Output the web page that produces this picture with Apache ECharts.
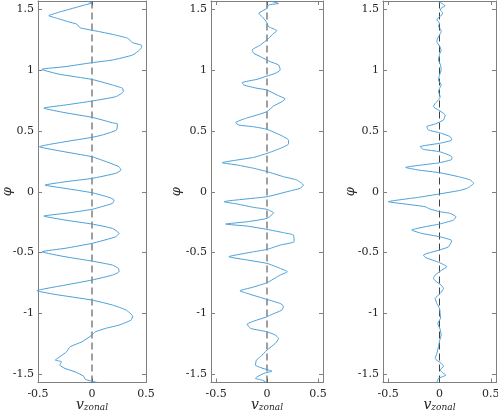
<!DOCTYPE html>
<html>
<head>
<meta charset="utf-8">
<script src="https://cdn.jsdelivr.net/npm/echarts@6/dist/echarts.min.js"></script>
<style>
  html, body { margin: 0; padding: 0; background: #fff; }
  #chart { width: 498px; height: 415px; }
</style>
</head>
<body>
<div id="chart"></div>
<script>
// tick labels shared by the three panels
const phiTicks = [-1.5, -1, -0.5, 0, 0.5, 1, 1.5]
const vTicks = [-0.5, 0, 0.5]

// panel 1 (top to bottom)
const phi1 = [1.570, 1.555, 1.540, 1.52, 1.50, 1.48, 1.45, 1.43, 1.40, 1.38, 1.35, 1.32, 1.29, 1.264, 1.227, 1.208, 1.19, 1.167, 1.126, 1.085, 1.063, 1.03, 1.008, 0.969, 0.925, 0.879, 0.852, 0.824, 0.783, 0.747, 0.714, 0.689, 0.651, 0.613, 0.568, 0.558, 0.508, 0.467, 0.448, 0.412, 0.371, 0.338, 0.288, 0.239, 0.206, 0.179, 0.152, 0.110, 0.082, 0.055, 0.028, -0.008, -0.046, -0.068, -0.095, -0.115, -0.145, -0.178, -0.200, -0.233, -0.266, -0.302, -0.343, -0.371, -0.425, -0.466, -0.494, -0.535, -0.571, -0.604, -0.631, -0.659, -0.686, -0.727, -0.769, -0.815, -0.845, -0.892, -0.933, -0.974, -1.024, -1.057, -1.098, -1.125, -1.153, -1.18, -1.236, -1.277, -1.318, -1.359, -1.386, -1.40, -1.428, -1.455, -1.483, -1.518, -1.545, -1.570]
const v1 = [-0.05, 0.00, -0.06, -0.14, -0.22, -0.30, -0.40, -0.33, -0.22, -0.14, -0.11, 0.06, 0.22, 0.33, 0.377, 0.456, 0.46, 0.44, 0.377, 0.19, 0.0, -0.25, -0.465, -0.31, 0.0, 0.19, 0.283, 0.29, 0.22, 0.0, -0.25, -0.446, -0.25, 0.0, 0.19, 0.236, 0.226, 0.094, 0.0, -0.25, -0.487, -0.31, 0.0, 0.158, 0.25, 0.268, 0.22, 0.0, -0.25, -0.434, -0.25, 0.0, 0.158, 0.205, 0.19, 0.12, 0.0, -0.25, -0.446, -0.25, 0.0, 0.19, 0.25, 0.22, 0.0, -0.25, -0.462, -0.25, 0.0, 0.19, 0.245, 0.25, 0.19, 0.0, -0.25, -0.509, -0.345, 0.0, 0.19, 0.315, 0.377, 0.362, 0.25, 0.126, 0.032, 0.0, -0.094, -0.204, -0.236, -0.298, -0.34, -0.283, -0.298, -0.25, -0.157, -0.078, -0.062, 0.047]

// panel 2
const phi2 = [1.570, 1.551, 1.538, 1.51, 1.469, 1.442, 1.40, 1.36, 1.326, 1.304, 1.263, 1.208, 1.167, 1.14, 1.113, 1.071, 1.044, 1.003, 0.975, 0.953, 0.926, 0.898, 0.879, 0.852, 0.838, 0.797, 0.764, 0.742, 0.706, 0.66, 0.632, 0.604, 0.569, 0.549, 0.535, 0.514, 0.467, 0.426, 0.393, 0.357, 0.316, 0.283, 0.239, 0.22, 0.193, 0.166, 0.124, 0.097, 0.055, 0.028, 0.0, -0.041, -0.082, -0.101, -0.129, -0.145, -0.173, -0.219, -0.247, -0.266, -0.283, -0.31, -0.337, -0.357, -0.411, -0.439, -0.475, -0.494, -0.535, -0.562, -0.59, -0.631, -0.659, -0.686, -0.749, -0.788, -0.815, -0.837, -0.887, -0.92, -0.942, -0.974, -1.016, -1.03, -1.056, -1.09, -1.125, -1.153, -1.18, -1.208, -1.249, -1.304, -1.359, -1.386, -1.428, -1.447, -1.469, -1.477, -1.496, -1.524, -1.537, -1.551, -1.565, -1.570]
const v2 = [0.03, 0.114, 0.016, 0.0, -0.081, -0.049, -0.006, 0.016, 0.097, 0.065, 0.016, -0.065, -0.146, -0.13, -0.065, 0.032, 0.114, 0.13, 0.081, 0.0, -0.097, -0.244, -0.227, -0.097, 0.0, 0.097, 0.179, 0.146, 0.065, 0.0, -0.097, -0.211, -0.309, -0.276, -0.13, 0.0, 0.13, 0.211, 0.211, 0.13, 0.0, -0.13, -0.439, -0.292, -0.13, 0.0, 0.162, 0.292, 0.357, 0.325, 0.195, 0.0, -0.422, -0.292, -0.13, 0.0, 0.065, 0.0, -0.195, -0.406, -0.195, 0.0, 0.162, 0.26, 0.266, 0.13, 0.0, -0.13, -0.374, -0.195, 0.0, 0.13, 0.201, 0.13, 0.0, -0.146, -0.266, -0.195, 0.0, 0.13, 0.162, 0.146, 0.032, 0.0, -0.097, -0.195, -0.162, 0.0, 0.081, 0.114, 0.081, 0.0, -0.065, -0.104, -0.114, -0.065, 0.016, 0.049, -0.032, -0.097, -0.114, -0.049, -0.016, -0.04]

// panel 3
const phi3 = [1.570, 1.553, 1.53, 1.515, 1.497, 1.475, 1.456, 1.435, 1.414, 1.39, 1.36, 1.34, 1.318, 1.29, 1.26, 1.236, 1.20, 1.167, 1.13, 1.085, 1.045, 1.003, 0.96, 0.92, 0.879, 0.85, 0.824, 0.783, 0.755, 0.728, 0.70, 0.673, 0.632, 0.591, 0.558, 0.536, 0.508, 0.486, 0.454, 0.426, 0.399, 0.371, 0.349, 0.33, 0.288, 0.267, 0.239, 0.20, 0.179, 0.157, 0.124, 0.097, 0.069, 0.028, 0.009, -0.018, -0.046, -0.082, -0.101, -0.123, -0.14, -0.164, -0.178, -0.206, -0.233, -0.266, -0.288, -0.315, -0.343, -0.37, -0.403, -0.453, -0.48, -0.521, -0.54, -0.584, -0.617, -0.645, -0.686, -0.714, -0.733, -0.769, -0.796, -0.837, -0.878, -0.92, -0.96, -1.002, -1.04, -1.084, -1.13, -1.18, -1.23, -1.276, -1.331, -1.373, -1.413, -1.436, -1.468, -1.49, -1.51, -1.537, -1.570]
const v3 = [-0.026, 0.02, 0.055, 0.02, 0.007, 0.03, 0.023, -0.01, -0.026, 0.0, -0.01, 0.01, 0.016, 0.0, -0.02, -0.026, 0.0, 0.016, 0.0, -0.01, 0.01, 0.016, 0.0, -0.01, 0.016, 0.0, -0.01, 0.007, -0.01, -0.042, -0.059, -0.01, 0.055, 0.039, -0.042, -0.124, -0.107, 0.0, 0.104, 0.12, 0.0, -0.189, -0.156, 0.0, 0.12, 0.12, 0.0, -0.329, -0.205, 0.0, 0.186, 0.30, 0.332, 0.267, 0.186, 0.0, -0.205, -0.498, -0.335, -0.14, -0.1, 0.0, 0.104, 0.16, 0.137, 0.0, -0.14, -0.27, -0.173, 0.0, 0.12, 0.088, 0.0, -0.156, -0.14, 0.0, 0.072, 0.023, -0.042, -0.059, -0.042, 0.016, 0.039, 0.007, -0.042, -0.026, 0.0, 0.007, 0.01, -0.016, 0.005, 0.016, 0.0, -0.01, -0.026, -0.042, 0.016, 0.039, 0.007, 0.03, 0.062, -0.01, -0.026]

const HALF_PI = Math.PI / 2
const FONT = 'DejaVu Serif'
const AXIS_COLOR = '#808080'
const TEXT_COLOR = '#262626'

var chart = echarts.init(document.getElementById('chart'), null, { renderer: 'canvas' })

const panels = [
  { left: 38, width: 108, xmin: -0.5, xmax: 0.5, phi: phi1, v: v1, nameGap: 24 },
  { left: 211, width: 112, xmin: -0.55, xmax: 0.55, phi: phi2, v: v2, nameGap: 28 },
  { left: 383, width: 113, xmin: -0.55, xmax: 0.55, phi: phi3, v: v3, nameGap: 26 }
]

var grid = []
var xAxis = []
var yAxis = []
var series = []

panels.forEach((p, i) => {
  // outerBoundsMode none: keep the grid exactly where it is put
  grid.push({ left: p.left, top: 1, width: p.width, height: 381.5, outerBoundsMode: 'none', containLabel: false })
  const line = { show: true, onZero: false, lineStyle: { color: AXIS_COLOR, width: 1 } }
  const tick = (vals) => ({ show: true, inside: true, length: 4, customValues: vals, lineStyle: { color: AXIS_COLOR } })
  // bottom + top
  xAxis.push({
    type: 'value', gridIndex: i, position: 'bottom', min: p.xmin, max: p.xmax,
    axisLine: line, axisTick: tick(vTicks), splitLine: { show: false },
    axisLabel: { customValues: vTicks, color: TEXT_COLOR, fontFamily: FONT, fontSize: 11, margin: 6 },
    name: '{v|v}{s|zonal}', nameLocation: 'middle', nameGap: 16, nameMoveOverlap: false,
    nameTextStyle: {
      color: TEXT_COLOR,
      rich: {
        v: { fontFamily: FONT, fontStyle: 'italic', fontSize: 14, color: TEXT_COLOR },
        s: { fontFamily: FONT, fontStyle: 'italic', fontSize: 9, color: TEXT_COLOR, padding: [5, 0, 0, 0] }
      }
    }
  })
  xAxis.push({
    type: 'value', gridIndex: i, position: 'top', min: p.xmin, max: p.xmax,
    axisLine: line, axisTick: tick(vTicks), axisLabel: { show: false }, splitLine: { show: false }
  })
  // left + right
  yAxis.push({
    type: 'value', gridIndex: i, position: 'left', min: -HALF_PI, max: HALF_PI,
    axisLine: line, axisTick: tick(phiTicks), splitLine: { show: false },
    axisLabel: { customValues: phiTicks, color: TEXT_COLOR, fontFamily: FONT, fontSize: 11, margin: 4 },
    name: 'φ', nameLocation: 'middle', nameGap: p.nameGap, nameRotate: 90, nameMoveOverlap: false,
    nameTextStyle: { fontFamily: FONT, fontStyle: 'italic', fontSize: 13, color: TEXT_COLOR }
  })
  yAxis.push({
    type: 'value', gridIndex: i, position: 'right', min: -HALF_PI, max: HALF_PI,
    axisLine: line, axisTick: tick(phiTicks), axisLabel: { show: false }, splitLine: { show: false }
  })

  series.push({
    type: 'line', xAxisIndex: i * 2, yAxisIndex: i * 2,
    data: [[0, -HALF_PI], [0, HALF_PI]],
    showSymbol: false, silent: true,
    lineStyle: { color: '#404040', width: 1, type: [7, 4] }
  })
  series.push({
    type: 'line', xAxisIndex: i * 2, yAxisIndex: i * 2,
    data: p.phi.map((y, k) => [p.v[k], y]),
    showSymbol: false, smooth: 0.15,
    lineStyle: { color: '#4a9fd8', width: 1 }
  })
})

chart.setOption({
  animation: false,
  grid: grid,
  xAxis: xAxis,
  yAxis: yAxis,
  series: series
})
</script>
</body>
</html>
